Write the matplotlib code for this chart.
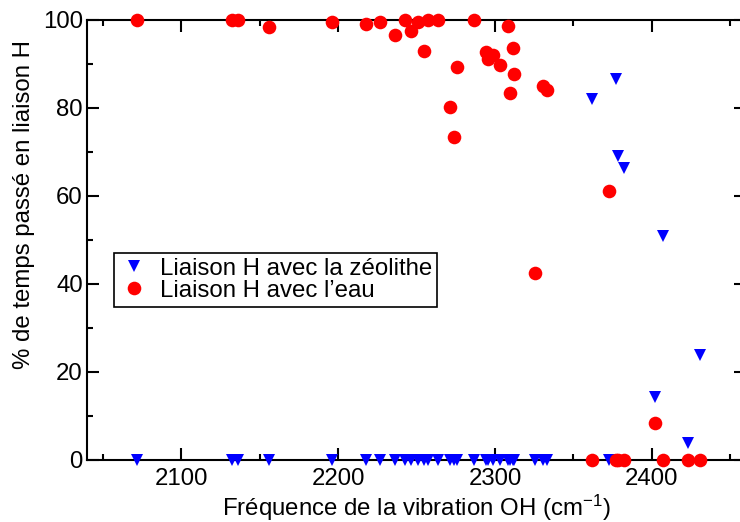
import matplotlib
matplotlib.use("Agg")
import matplotlib.pyplot as plt
from matplotlib.ticker import MultipleLocator

plt.rcParams["font.family"] = ["Liberation Sans", "DejaVu Sans"]
plt.rcParams["mathtext.default"] = "regular"

# OH vibration frequencies (cm-1) and % of time H-bonded
freq = [2072, 2132.5, 2136.5, 2156, 2196, 2218, 2226.5, 2236.3, 2242.4, 2246.7,
        2250.9, 2254.7, 2257.2, 2264, 2271.4, 2273.7, 2275.9, 2286.9, 2294.3, 2295.3,
        2298.5, 2303.2, 2308.2, 2309.4, 2311.6, 2312.4, 2325.8, 2330.7, 2333.4, 2361.6,
        2372.9, 2377.2, 2378.3, 2382.1, 2402.2, 2407.1, 2423.2, 2430.8]
zeolithe = [0, 0, 0, 0, 0, 0, 0, 0, 0, 0,
            0, 0, 0, 0, 0, 0, 0, 0, 0, 0,
            0, 0, 0, 0, 0, 0, 0, 0, 0, 82.0,
            0, 86.5, 69.1, 66.3, 14.4, 50.9, 3.9, 23.9]
eau = [100, 100, 100, 98.3, 99.5, 99.0, 99.5, 96.6, 100, 97.5,
       99.5, 93.0, 100, 100, 80.2, 73.5, 89.4, 100, 92.8, 91.1,
       92.0, 89.8, 98.7, 83.5, 93.6, 87.7, 42.5, 85.1, 84.1, 0,
       61.1, 0, 0, 0, 8.3, 0, 0, 0]

fs = 17.3

fig = plt.figure(figsize=(7.4, 5.22), dpi=100)
ax = fig.add_axes([87 / 740, 62 / 522, 659 / 740, 440 / 522])

ax.plot(freq, zeolithe, "v", color="#0000ff", markersize=8.8, markeredgewidth=0,
        clip_on=False, zorder=3, label="Liaison H avec la zéolithe")
ax.plot(freq, eau, "o", color="#ff0000", markersize=9.8, markeredgewidth=0,
        clip_on=False, zorder=4, label="Liaison H avec l\u2019eau")

ax.set_xlim(2040, 2460)
ax.set_ylim(0, 100)
ax.xaxis.set_major_locator(MultipleLocator(100))
ax.xaxis.set_minor_locator(MultipleLocator(50))
ax.yaxis.set_major_locator(MultipleLocator(20))
ax.yaxis.set_minor_locator(MultipleLocator(10))
ax.tick_params(which="both", direction="in", top=True, right=True, width=1.5,
               labelsize=fs)
ax.tick_params(which="major", length=8.6)
ax.tick_params(which="minor", length=4.3)
ax.tick_params(axis="x", pad=6)
ax.tick_params(axis="y", pad=3)
for s in ax.spines.values():
    s.set_linewidth(1.5)

ax.set_xlabel("Fréquence de la vibration OH (cm$^{-1}$)", fontsize=fs, labelpad=2)
ax.set_ylabel("% de temps passé en liaison H", fontsize=fs)
ax.yaxis.set_label_coords(-0.079, 0.58)

leg = ax.legend(loc="upper left", bbox_to_anchor=(114 / 740, 1 - 253 / 522),
                bbox_transform=fig.transFigure, borderaxespad=0, fontsize=fs,
                numpoints=1, handlelength=1.25, handletextpad=0.45, borderpad=0.2,
                labelspacing=0.0, fancybox=False, framealpha=1)
leg.get_frame().set_edgecolor("black")
leg.get_frame().set_linewidth(1.2)

plt.savefig("out.png", dpi=100)
